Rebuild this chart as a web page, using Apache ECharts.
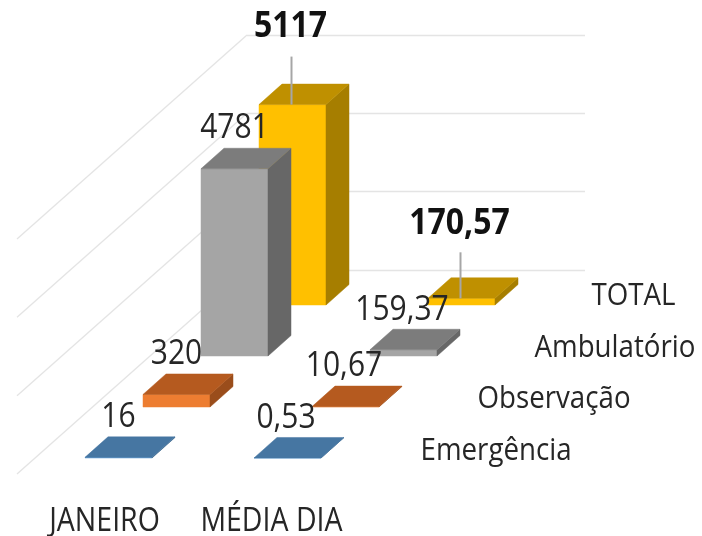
<!DOCTYPE html>
<html>
<head>
<meta charset="utf-8">
<style>html,body{margin:0;padding:0;background:#fff}#chart{width:702px;height:536px}</style>
<script src="https://cdn.jsdelivr.net/npm/echarts@6/dist/echarts.min.js"></script>
</head>
<body>
<div id="chart"></div>
<script>
const categories = ["JANEIRO", "MÉDIA DIA"];
const seriesNames = ["TOTAL", "Ambulatório", "Observação", "Emergência"];
const total = [5117, 170.57];
const ambulatorio = [4781, 159.37];
const observacao = [320, 10.67];
const emergencia = [16, 0.53];
const yTicks = [0, 2000, 4000, 6000];

const FONT = "'Open Sans'";
const TEXT_STRETCH = 1.14; // reference text is taller than Open Sans at the same width
const colors = [
  { front: "#FFC000", top: "#BF9000", side: "#A67E00" },
  { front: "#A5A5A5", top: "#7C7C7C", side: "#676767" },
  { front: "#ED7D31", top: "#B55A1F", side: "#9A4D1B" },
  { front: "#5B9BD5", top: "#4676A2", side: "#3B6489" }
];
const values = [total, ambulatorio, observacao, emergencia];

// oblique projection: one depth slot moves a mark this far from the back wall
const SLOT_X = 58, SLOT_Y = 51;
const BAR_W = 67, BAR_DX = 23, BAR_DY = 20.5;
const BACK_X = 39, BACK_Y = 35;

function poly(points, fill) {
  return { type: "polygon", shape: { points }, style: { fill, stroke: fill, lineWidth: 0.5 } };
}

function text(str, x, y, size, bold, fill, align) {
  return {
    type: "text",
    x, y,
    scaleY: TEXT_STRETCH,
    style: {
      text: str, x: 0, y: 0, fill,
      fontFamily: FONT, fontSize: size, fontWeight: bold ? "bold" : "normal",
      textAlign: align || "center", textVerticalAlign: "middle"
    }
  };
}

function renderBar(depth) {
  return function (params, api) {
    const val = api.value(1);
    const base = api.coord([api.value(0), 0]);
    const top = api.coord([api.value(0), val]);
    const cx = base[0] - BACK_X - depth * SLOT_X;
    const off = BACK_Y + depth * SLOT_Y;
    const y0 = base[1] + off;
    const y1 = top[1] + off;
    const l = cx - BAR_W / 2, r = cx + BAR_W / 2;
    const c = colors[depth];
    const children = [
      poly([[l, y0], [r, y0], [r, y1], [l, y1]], c.front),
      poly([[r, y0], [r + BAR_DX, y0 - BAR_DY], [r + BAR_DX, y1 - BAR_DY], [r, y1]], c.side),
      poly([[l, y1], [r, y1], [r + BAR_DX, y1 - BAR_DY], [l + BAR_DX, y1 - BAR_DY]], c.top)
    ];
    const str = String(val).replace(".", ",");
    const daily = params.dataIndex === 1;
    if (depth === 0) {
      // totals sit higher, with a leader line down to the bar
      children.push({
        type: "line",
        shape: { x1: cx - 1, y1: y1 - (daily ? 46 : 48), x2: cx - 1, y2: y1 },
        style: { stroke: "#A6A6A6", lineWidth: 2 }
      });
      children.push(text(str, cx - 2, y1 - (daily ? 75 : 78), 32, true, "#111"));
    } else {
      children.push(text(str, cx - (daily ? 1.5 : 0), y1 - 40, 30, false, "#262626"));
    }
    return { type: "group", children };
  };
}

function renderWall(params, api) {
  const p = api.coord([0, api.value(0)]);
  const x = params.coordSys.x;
  return {
    type: "line",
    shape: { x1: x, y1: p[1], x2: x - 230, y2: p[1] + 204 },
    style: { stroke: "#E4E4E4", lineWidth: 1.3 }
  };
}

function renderCategoryName(params, api) {
  const p = api.coord([api.value(0), 0]);
  return text(categories[params.dataIndex], p[0] - 227 - params.dataIndex * 2, p[1] + 252, 28.5, false, "#262626");
}

function renderSeriesName(params, api) {
  const p = api.coord([1, 0]);
  const d = params.dataIndex;
  return text(seriesNames[d], p[0] + 91 - d * 57, p[1] + 26 + d * 51.7, 27.7, false, "#262626", "left");
}

const series = [
  { type: "custom", renderItem: renderWall, data: yTicks.map(v => [v]), clip: false, silent: true,
    encode: { y: 0 }, z: 1 }
];
values.forEach((vals, depth) => {
  series.push({
    name: seriesNames[depth],
    type: "custom",
    renderItem: renderBar(depth),
    data: vals.map((v, i) => [i, v]),
    encode: { x: 0, y: 1 },
    clip: false,
    z: 2 + depth
  });
});
series.push({ type: "custom", renderItem: renderCategoryName, data: categories.map((c, i) => [i]),
  clip: false, silent: true, encode: { x: 0 }, z: 10 });
series.push({ type: "custom", renderItem: renderSeriesName, data: seriesNames.map((c, i) => [i]),
  clip: false, silent: true, z: 10 });

const chart = echarts.init(document.getElementById("chart"));
chart.setOption({
  animation: false,
  backgroundColor: "#fff",
  grid: { left: 247, right: 117, top: 35, height: 235 },
  xAxis: {
    type: "category",
    data: categories,
    axisLine: { show: false },
    axisTick: { show: false },
    axisLabel: { show: false }
  },
  yAxis: {
    type: "value",
    min: 0,
    max: 6000,
    interval: 2000,
    axisLine: { show: false },
    axisTick: { show: false },
    axisLabel: { show: false },
    splitLine: { lineStyle: { color: "#E4E4E4", width: 1.3 } }
  },
  series
});
</script>
</body>
</html>
